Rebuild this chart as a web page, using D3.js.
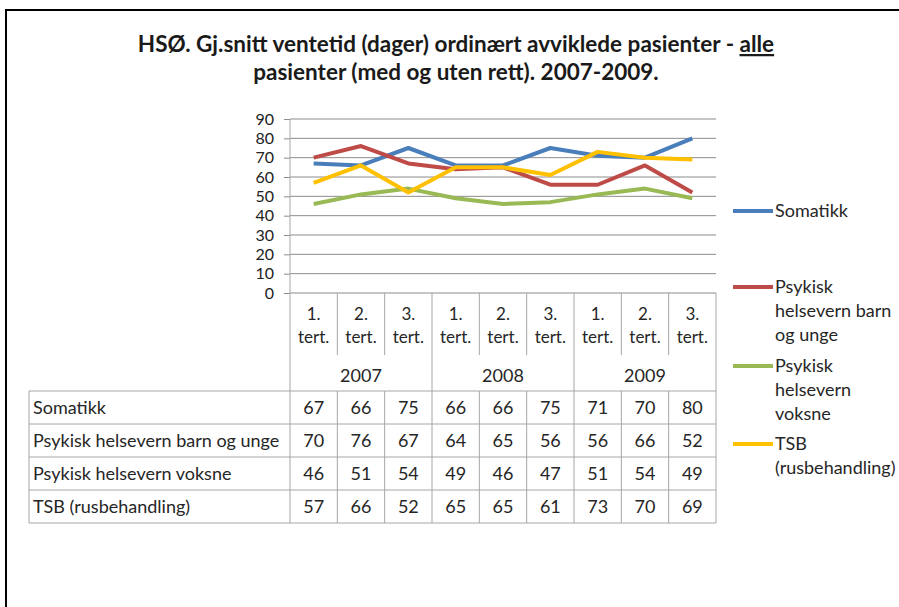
<!DOCTYPE html>
<html>
<head>
<meta charset="utf-8">
<script src="https://cdn.jsdelivr.net/npm/d3@7"></script>
<style>
  body { margin: 0; background: #fff; }
  svg { display: block; font-family: Lato, "Open Sans", sans-serif; }
</style>
</head>
<body>
<div id="chart"></div>
<script>
// ---- Data -------------------------------------------------------------
const years = ['2007', '2008', '2009'];
const terms = ['1.', '2.', '3.'];
const seriesNames = ['Somatikk', 'Psykisk helsevern barn og unge', 'Psykisk helsevern voksne', 'TSB (rusbehandling)'];
const legendLines = [['Somatikk'], ['Psykisk', 'helsevern barn', 'og unge'], ['Psykisk', 'helsevern', 'voksne'], ['TSB', '(rusbehandling)']];
const somatikk = [67, 66, 75, 66, 66, 75, 71, 70, 80];
const barnUnge = [70, 76, 67, 64, 65, 56, 56, 66, 52];
const voksne   = [46, 51, 54, 49, 46, 47, 51, 54, 49];
const tsb      = [57, 66, 52, 65, 65, 61, 73, 70, 69];
const yTicks   = [0, 10, 20, 30, 40, 50, 60, 70, 80, 90];

const seriesValues = [somatikk, barnUnge, voksne, tsb];
const colors = ['#4a7ebb', '#be4b48', '#98b954', '#ffc000'];
const periods = years.flatMap(y => terms.map(t => `${y}-${t}`));

// ---- Dimensions -------------------------------------------------------
const width = 899, height = 607;
const plot = { left: 290, right: 716, top: 119, bottom: 293 };
const table = { left: 29, top: 391, rowH: 33 };
const tableBottom = table.top + table.rowH * seriesNames.length;
const gridColor = '#8c8c8c';
const tableColor = '#a6a6a6';
const textColor = '#262626';
const fontSize = 18;

const svg = d3.select('#chart').append('svg')
  .attr('width', width)
  .attr('height', height);

// ---- Frame ------------------------------------------------------------
svg.append('path')
  .attr('d', `M6,${height} V10 H${width}`)
  .attr('fill', 'none')
  .attr('stroke', '#000')
  .attr('stroke-width', 2);

// ---- Title ------------------------------------------------------------
const title = svg.append('text')
  .attr('text-anchor', 'middle')
  .attr('font-weight', 'bold')
  .attr('font-size', 22.5)
  .attr('fill', '#1a1a1a');
const t1 = title.append('tspan').attr('x', 456).attr('y', 52);
t1.append('tspan').text('HSØ. Gj.snitt ventetid (dager) ordinært avviklede pasienter - ');
t1.append('tspan').attr('text-decoration', 'underline').text('alle');
title.append('tspan').attr('x', 456).attr('y', 80).text('pasienter (med og uten rett). 2007-2009.');

// ---- Scales -----------------------------------------------------------
const xScale = d3.scaleBand()
  .domain(periods)
  .range([plot.left, plot.right])
  .padding(0);

const yScale = d3.scaleLinear()
  .domain([0, 90])
  .range([plot.bottom, plot.top]);

const xMid = d => xScale(d) + xScale.bandwidth() / 2;

// ---- Grid + y axis ----------------------------------------------------
const yAxis = d3.axisLeft(yScale)
  .tickValues(yTicks)
  .tickSize(6)
  .tickPadding(10);

const yAxisGroup = svg.append('g')
  .attr('transform', `translate(${plot.left},0)`)
  .call(yAxis);
yAxisGroup.select('.domain').remove();
yAxisGroup.selectAll('line').attr('stroke', gridColor);
yAxisGroup.selectAll('text')
  .attr('font-family', 'Lato, sans-serif')
  .attr('font-size', 16)
  .attr('fill', '#222');

svg.append('g')
  .selectAll('line')
  .data(yTicks)
  .join('line')
  .attr('x1', plot.left)
  .attr('x2', plot.right)
  .attr('y1', d => yScale(d))
  .attr('y2', d => yScale(d))
  .attr('stroke', gridColor)
  .attr('stroke-width', 1);

// ---- Lines ------------------------------------------------------------
const line = d3.line()
  .x((_, i) => xMid(periods[i]))
  .y(d => yScale(d));

svg.append('g')
  .selectAll('path')
  .data(seriesValues)
  .join('path')
  .attr('d', d => line(d))
  .attr('fill', 'none')
  .attr('stroke', (_, i) => colors[i])
  .attr('stroke-width', 4)
  .attr('stroke-linejoin', 'round');

// ---- Category axis / data table --------------------------------------
const grid = svg.append('g').attr('stroke', tableColor).attr('stroke-width', 1);

grid.append('line')
  .attr('x1', plot.left).attr('x2', plot.left)
  .attr('y1', plot.top).attr('y2', tableBottom);

// band separators: short within a year, full between years
periods.forEach((p, i) => {
  if (i === 0) return;
  const x = xScale(p);
  const yearEdge = i % terms.length === 0;
  grid.append('line')
    .attr('x1', x).attr('x2', x)
    .attr('y1', plot.bottom)
    .attr('y2', yearEdge ? tableBottom : 355);
  if (!yearEdge) {
    grid.append('line')
      .attr('x1', x).attr('x2', x)
      .attr('y1', table.top).attr('y2', tableBottom);
  }
});
grid.append('line')
  .attr('x1', plot.right).attr('x2', plot.right)
  .attr('y1', plot.bottom).attr('y2', tableBottom);
grid.append('line')
  .attr('x1', table.left).attr('x2', table.left)
  .attr('y1', table.top).attr('y2', tableBottom);

d3.range(seriesNames.length + 1).forEach(r => {
  const y = table.top + r * table.rowH;
  grid.append('line')
    .attr('x1', table.left).attr('x2', plot.right)
    .attr('y1', y).attr('y2', y);
});

const header = svg.append('g')
  .attr('font-size', 17)
  .attr('fill', textColor)
  .attr('text-anchor', 'middle');

header.selectAll('text.term')
  .data(periods)
  .join('text')
  .attr('class', 'term')
  .attr('x', d => xMid(d))
  .attr('y', 320)
  .text(d => d.split('-')[1]);

header.selectAll('text.tert')
  .data(periods)
  .join('text')
  .attr('class', 'tert')
  .attr('x', d => xMid(d))
  .attr('y', 343)
  .text('tert.');

header.selectAll('text.year')
  .data(years)
  .join('text')
  .attr('class', 'year')
  .attr('x', d => xMid(`${d}-${terms[1]}`))
  .attr('y', 382)
  .attr('font-size', fontSize)
  .text(d => d);

const rows = svg.append('g')
  .attr('font-size', fontSize)
  .attr('fill', textColor);

rows.selectAll('text.name')
  .data(seriesNames)
  .join('text')
  .attr('class', 'name')
  .attr('x', table.left + 4)
  .attr('y', (_, i) => table.top + i * table.rowH + 23)
  .text(d => d);

seriesValues.forEach((vals, r) => {
  rows.append('g')
    .attr('text-anchor', 'middle')
    .selectAll('text')
    .data(vals)
    .join('text')
    .attr('x', (_, i) => xMid(periods[i]))
    .attr('y', table.top + r * table.rowH + 23)
    .text(d => d);
});

// ---- Legend -----------------------------------------------------------
const legendY = [211, 287, 366, 444];
const legend = svg.append('g').attr('font-size', fontSize).attr('fill', textColor);
legendLines.forEach((lines, i) => {
  const g = legend.append('g').attr('transform', `translate(733,${legendY[i]})`);
  g.append('line')
    .attr('x1', 0).attr('x2', 40)
    .attr('stroke', colors[i])
    .attr('stroke-width', 4);
  g.selectAll('text')
    .data(lines)
    .join('text')
    .attr('x', 42)
    .attr('y', (_, k) => k * 24 + 6)
    .text(d => d);
});
</script>
</body>
</html>
